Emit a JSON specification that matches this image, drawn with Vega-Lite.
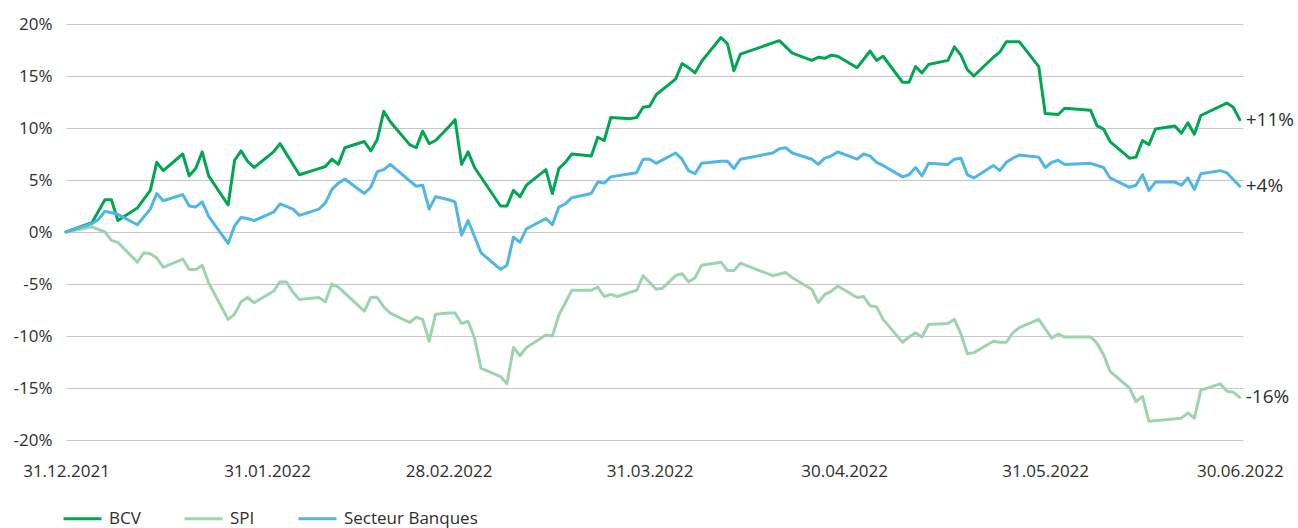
{
  "$schema": "https://vega.github.io/schema/vega-lite/v6.json",
  "autosize": {"type": "none"},
  "padding": {"left": 66, "top": 24, "right": 55, "bottom": 88},
  "width": 1177,
  "height": 416,
  "background": "white",
  "config": {
    "view": {"stroke": null},
    "font": "Open Sans",
    "text": {"font": "Open Sans"}
  },
  "datasets": {
    "series": [
      {"date": "2021-12-31", "series": "BCV", "value": 0},
      {"date": "2022-01-04", "series": "BCV", "value": 0.9},
      {"date": "2022-01-06", "series": "BCV", "value": 3.1},
      {"date": "2022-01-07", "series": "BCV", "value": 3.1},
      {"date": "2022-01-08", "series": "BCV", "value": 1.1},
      {"date": "2022-01-11", "series": "BCV", "value": 2.3},
      {"date": "2022-01-13", "series": "BCV", "value": 4.0},
      {"date": "2022-01-14", "series": "BCV", "value": 6.7},
      {"date": "2022-01-15", "series": "BCV", "value": 5.9},
      {"date": "2022-01-18", "series": "BCV", "value": 7.5},
      {"date": "2022-01-19", "series": "BCV", "value": 5.4},
      {"date": "2022-01-20", "series": "BCV", "value": 6.1},
      {"date": "2022-01-21", "series": "BCV", "value": 7.7},
      {"date": "2022-01-22", "series": "BCV", "value": 5.4},
      {"date": "2022-01-25", "series": "BCV", "value": 2.6},
      {"date": "2022-01-26", "series": "BCV", "value": 6.9},
      {"date": "2022-01-27", "series": "BCV", "value": 7.8},
      {"date": "2022-01-28", "series": "BCV", "value": 6.8},
      {"date": "2022-01-29", "series": "BCV", "value": 6.2},
      {"date": "2022-02-01", "series": "BCV", "value": 7.7},
      {"date": "2022-02-02", "series": "BCV", "value": 8.5},
      {"date": "2022-02-05", "series": "BCV", "value": 5.5},
      {"date": "2022-02-08", "series": "BCV", "value": 6.1},
      {"date": "2022-02-09", "series": "BCV", "value": 6.3},
      {"date": "2022-02-10", "series": "BCV", "value": 7.0},
      {"date": "2022-02-11", "series": "BCV", "value": 6.5},
      {"date": "2022-02-12", "series": "BCV", "value": 8.1},
      {"date": "2022-02-15", "series": "BCV", "value": 8.7},
      {"date": "2022-02-16", "series": "BCV", "value": 7.8},
      {"date": "2022-02-17", "series": "BCV", "value": 8.9},
      {"date": "2022-02-18", "series": "BCV", "value": 11.6},
      {"date": "2022-02-19", "series": "BCV", "value": 10.6},
      {"date": "2022-02-22", "series": "BCV", "value": 8.4},
      {"date": "2022-02-23", "series": "BCV", "value": 8.1},
      {"date": "2022-02-24", "series": "BCV", "value": 9.7},
      {"date": "2022-02-25", "series": "BCV", "value": 8.5},
      {"date": "2022-02-26", "series": "BCV", "value": 8.8},
      {"date": "2022-02-28", "series": "BCV", "value": 10.1},
      {"date": "2022-03-01", "series": "BCV", "value": 10.8},
      {"date": "2022-03-02", "series": "BCV", "value": 6.5},
      {"date": "2022-03-03", "series": "BCV", "value": 7.7},
      {"date": "2022-03-04", "series": "BCV", "value": 6.2},
      {"date": "2022-03-08", "series": "BCV", "value": 2.5},
      {"date": "2022-03-09", "series": "BCV", "value": 2.5},
      {"date": "2022-03-10", "series": "BCV", "value": 4.0},
      {"date": "2022-03-11", "series": "BCV", "value": 3.4},
      {"date": "2022-03-12", "series": "BCV", "value": 4.5},
      {"date": "2022-03-15", "series": "BCV", "value": 6.0},
      {"date": "2022-03-16", "series": "BCV", "value": 3.7},
      {"date": "2022-03-17", "series": "BCV", "value": 6.1},
      {"date": "2022-03-18", "series": "BCV", "value": 6.7},
      {"date": "2022-03-19", "series": "BCV", "value": 7.5},
      {"date": "2022-03-22", "series": "BCV", "value": 7.3},
      {"date": "2022-03-23", "series": "BCV", "value": 9.1},
      {"date": "2022-03-24", "series": "BCV", "value": 8.8},
      {"date": "2022-03-25", "series": "BCV", "value": 11.0},
      {"date": "2022-03-28", "series": "BCV", "value": 10.9},
      {"date": "2022-03-29", "series": "BCV", "value": 11.0},
      {"date": "2022-03-30", "series": "BCV", "value": 12.0},
      {"date": "2022-03-31", "series": "BCV", "value": 12.1},
      {"date": "2022-04-01", "series": "BCV", "value": 13.2},
      {"date": "2022-04-04", "series": "BCV", "value": 14.7},
      {"date": "2022-04-05", "series": "BCV", "value": 16.2},
      {"date": "2022-04-06", "series": "BCV", "value": 15.8},
      {"date": "2022-04-07", "series": "BCV", "value": 15.3},
      {"date": "2022-04-08", "series": "BCV", "value": 16.4},
      {"date": "2022-04-11", "series": "BCV", "value": 18.7},
      {"date": "2022-04-12", "series": "BCV", "value": 18.1},
      {"date": "2022-04-13", "series": "BCV", "value": 15.5},
      {"date": "2022-04-14", "series": "BCV", "value": 17.1},
      {"date": "2022-04-20", "series": "BCV", "value": 18.4},
      {"date": "2022-04-22", "series": "BCV", "value": 17.2},
      {"date": "2022-04-25", "series": "BCV", "value": 16.5},
      {"date": "2022-04-26", "series": "BCV", "value": 16.8},
      {"date": "2022-04-27", "series": "BCV", "value": 16.7},
      {"date": "2022-04-28", "series": "BCV", "value": 17.0},
      {"date": "2022-04-29", "series": "BCV", "value": 16.9},
      {"date": "2022-05-02", "series": "BCV", "value": 15.8},
      {"date": "2022-05-04", "series": "BCV", "value": 17.4},
      {"date": "2022-05-05", "series": "BCV", "value": 16.5},
      {"date": "2022-05-06", "series": "BCV", "value": 16.9},
      {"date": "2022-05-09", "series": "BCV", "value": 14.4},
      {"date": "2022-05-10", "series": "BCV", "value": 14.4},
      {"date": "2022-05-11", "series": "BCV", "value": 15.9},
      {"date": "2022-05-12", "series": "BCV", "value": 15.3},
      {"date": "2022-05-13", "series": "BCV", "value": 16.1},
      {"date": "2022-05-16", "series": "BCV", "value": 16.5},
      {"date": "2022-05-17", "series": "BCV", "value": 17.8},
      {"date": "2022-05-18", "series": "BCV", "value": 17.0},
      {"date": "2022-05-19", "series": "BCV", "value": 15.6},
      {"date": "2022-05-20", "series": "BCV", "value": 15.0},
      {"date": "2022-05-23", "series": "BCV", "value": 16.8},
      {"date": "2022-05-24", "series": "BCV", "value": 17.3},
      {"date": "2022-05-25", "series": "BCV", "value": 18.3},
      {"date": "2022-05-27", "series": "BCV", "value": 18.3},
      {"date": "2022-05-30", "series": "BCV", "value": 15.9},
      {"date": "2022-05-31", "series": "BCV", "value": 11.4},
      {"date": "2022-06-02", "series": "BCV", "value": 11.3},
      {"date": "2022-06-03", "series": "BCV", "value": 11.9},
      {"date": "2022-06-07", "series": "BCV", "value": 11.7},
      {"date": "2022-06-08", "series": "BCV", "value": 10.2},
      {"date": "2022-06-09", "series": "BCV", "value": 9.9},
      {"date": "2022-06-10", "series": "BCV", "value": 8.7},
      {"date": "2022-06-13", "series": "BCV", "value": 7.1},
      {"date": "2022-06-14", "series": "BCV", "value": 7.2},
      {"date": "2022-06-15", "series": "BCV", "value": 8.8},
      {"date": "2022-06-16", "series": "BCV", "value": 8.4},
      {"date": "2022-06-17", "series": "BCV", "value": 9.9},
      {"date": "2022-06-20", "series": "BCV", "value": 10.2},
      {"date": "2022-06-21", "series": "BCV", "value": 9.5},
      {"date": "2022-06-22", "series": "BCV", "value": 10.5},
      {"date": "2022-06-23", "series": "BCV", "value": 9.4},
      {"date": "2022-06-24", "series": "BCV", "value": 11.2},
      {"date": "2022-06-28", "series": "BCV", "value": 12.4},
      {"date": "2022-06-29", "series": "BCV", "value": 12.0},
      {"date": "2022-06-30", "series": "BCV", "value": 10.8},

      {"date": "2021-12-31", "series": "SPI", "value": 0},
      {"date": "2022-01-04", "series": "SPI", "value": 0.5},
      {"date": "2022-01-06", "series": "SPI", "value": 0.0},
      {"date": "2022-01-07", "series": "SPI", "value": -0.8},
      {"date": "2022-01-08", "series": "SPI", "value": -1.0},
      {"date": "2022-01-11", "series": "SPI", "value": -2.9},
      {"date": "2022-01-12", "series": "SPI", "value": -2.0},
      {"date": "2022-01-13", "series": "SPI", "value": -2.1},
      {"date": "2022-01-14", "series": "SPI", "value": -2.5},
      {"date": "2022-01-15", "series": "SPI", "value": -3.4},
      {"date": "2022-01-18", "series": "SPI", "value": -2.6},
      {"date": "2022-01-19", "series": "SPI", "value": -3.6},
      {"date": "2022-01-20", "series": "SPI", "value": -3.6},
      {"date": "2022-01-21", "series": "SPI", "value": -3.2},
      {"date": "2022-01-22", "series": "SPI", "value": -4.9},
      {"date": "2022-01-25", "series": "SPI", "value": -8.4},
      {"date": "2022-01-26", "series": "SPI", "value": -7.9},
      {"date": "2022-01-27", "series": "SPI", "value": -6.7},
      {"date": "2022-01-28", "series": "SPI", "value": -6.3},
      {"date": "2022-01-29", "series": "SPI", "value": -6.8},
      {"date": "2022-02-01", "series": "SPI", "value": -5.7},
      {"date": "2022-02-02", "series": "SPI", "value": -4.8},
      {"date": "2022-02-03", "series": "SPI", "value": -4.8},
      {"date": "2022-02-04", "series": "SPI", "value": -5.8},
      {"date": "2022-02-05", "series": "SPI", "value": -6.5},
      {"date": "2022-02-08", "series": "SPI", "value": -6.3},
      {"date": "2022-02-09", "series": "SPI", "value": -6.7},
      {"date": "2022-02-10", "series": "SPI", "value": -5.0},
      {"date": "2022-02-11", "series": "SPI", "value": -5.3},
      {"date": "2022-02-15", "series": "SPI", "value": -7.6},
      {"date": "2022-02-16", "series": "SPI", "value": -6.3},
      {"date": "2022-02-17", "series": "SPI", "value": -6.3},
      {"date": "2022-02-18", "series": "SPI", "value": -7.2},
      {"date": "2022-02-19", "series": "SPI", "value": -7.8},
      {"date": "2022-02-22", "series": "SPI", "value": -8.7},
      {"date": "2022-02-23", "series": "SPI", "value": -8.2},
      {"date": "2022-02-24", "series": "SPI", "value": -8.4},
      {"date": "2022-02-25", "series": "SPI", "value": -10.5},
      {"date": "2022-02-26", "series": "SPI", "value": -7.9},
      {"date": "2022-02-28", "series": "SPI", "value": -7.8},
      {"date": "2022-03-01", "series": "SPI", "value": -7.8},
      {"date": "2022-03-02", "series": "SPI", "value": -8.8},
      {"date": "2022-03-03", "series": "SPI", "value": -8.6},
      {"date": "2022-03-04", "series": "SPI", "value": -10.2},
      {"date": "2022-03-05", "series": "SPI", "value": -13.1},
      {"date": "2022-03-08", "series": "SPI", "value": -13.9},
      {"date": "2022-03-09", "series": "SPI", "value": -14.6},
      {"date": "2022-03-10", "series": "SPI", "value": -11.1},
      {"date": "2022-03-11", "series": "SPI", "value": -11.9},
      {"date": "2022-03-12", "series": "SPI", "value": -11.1},
      {"date": "2022-03-15", "series": "SPI", "value": -9.9},
      {"date": "2022-03-16", "series": "SPI", "value": -10.0},
      {"date": "2022-03-17", "series": "SPI", "value": -8.0},
      {"date": "2022-03-19", "series": "SPI", "value": -5.6},
      {"date": "2022-03-22", "series": "SPI", "value": -5.6},
      {"date": "2022-03-23", "series": "SPI", "value": -5.3},
      {"date": "2022-03-24", "series": "SPI", "value": -6.2},
      {"date": "2022-03-25", "series": "SPI", "value": -6.0},
      {"date": "2022-03-26", "series": "SPI", "value": -6.2},
      {"date": "2022-03-29", "series": "SPI", "value": -5.6},
      {"date": "2022-03-30", "series": "SPI", "value": -4.2},
      {"date": "2022-04-01", "series": "SPI", "value": -5.5},
      {"date": "2022-04-02", "series": "SPI", "value": -5.4},
      {"date": "2022-04-04", "series": "SPI", "value": -4.2},
      {"date": "2022-04-05", "series": "SPI", "value": -4.0},
      {"date": "2022-04-06", "series": "SPI", "value": -4.8},
      {"date": "2022-04-07", "series": "SPI", "value": -4.4},
      {"date": "2022-04-08", "series": "SPI", "value": -3.2},
      {"date": "2022-04-11", "series": "SPI", "value": -2.9},
      {"date": "2022-04-12", "series": "SPI", "value": -3.7},
      {"date": "2022-04-13", "series": "SPI", "value": -3.7},
      {"date": "2022-04-14", "series": "SPI", "value": -3.0},
      {"date": "2022-04-19", "series": "SPI", "value": -4.2},
      {"date": "2022-04-21", "series": "SPI", "value": -3.9},
      {"date": "2022-04-22", "series": "SPI", "value": -4.4},
      {"date": "2022-04-25", "series": "SPI", "value": -5.5},
      {"date": "2022-04-26", "series": "SPI", "value": -6.8},
      {"date": "2022-04-27", "series": "SPI", "value": -6.0},
      {"date": "2022-04-28", "series": "SPI", "value": -5.7},
      {"date": "2022-04-29", "series": "SPI", "value": -5.2},
      {"date": "2022-05-02", "series": "SPI", "value": -6.3},
      {"date": "2022-05-03", "series": "SPI", "value": -6.2},
      {"date": "2022-05-04", "series": "SPI", "value": -7.1},
      {"date": "2022-05-05", "series": "SPI", "value": -7.2},
      {"date": "2022-05-06", "series": "SPI", "value": -8.4},
      {"date": "2022-05-09", "series": "SPI", "value": -10.6},
      {"date": "2022-05-10", "series": "SPI", "value": -10.1},
      {"date": "2022-05-11", "series": "SPI", "value": -9.7},
      {"date": "2022-05-12", "series": "SPI", "value": -10.1},
      {"date": "2022-05-13", "series": "SPI", "value": -8.9},
      {"date": "2022-05-16", "series": "SPI", "value": -8.8},
      {"date": "2022-05-17", "series": "SPI", "value": -8.4},
      {"date": "2022-05-18", "series": "SPI", "value": -9.8},
      {"date": "2022-05-19", "series": "SPI", "value": -11.7},
      {"date": "2022-05-20", "series": "SPI", "value": -11.6},
      {"date": "2022-05-23", "series": "SPI", "value": -10.5},
      {"date": "2022-05-24", "series": "SPI", "value": -10.6},
      {"date": "2022-05-25", "series": "SPI", "value": -10.6},
      {"date": "2022-05-26", "series": "SPI", "value": -9.7},
      {"date": "2022-05-27", "series": "SPI", "value": -9.2},
      {"date": "2022-05-30", "series": "SPI", "value": -8.4},
      {"date": "2022-06-01", "series": "SPI", "value": -10.2},
      {"date": "2022-06-02", "series": "SPI", "value": -9.8},
      {"date": "2022-06-03", "series": "SPI", "value": -10.1},
      {"date": "2022-06-07", "series": "SPI", "value": -10.1},
      {"date": "2022-06-08", "series": "SPI", "value": -10.7},
      {"date": "2022-06-09", "series": "SPI", "value": -11.8},
      {"date": "2022-06-10", "series": "SPI", "value": -13.4},
      {"date": "2022-06-13", "series": "SPI", "value": -15.0},
      {"date": "2022-06-14", "series": "SPI", "value": -16.3},
      {"date": "2022-06-15", "series": "SPI", "value": -15.8},
      {"date": "2022-06-16", "series": "SPI", "value": -18.2},
      {"date": "2022-06-21", "series": "SPI", "value": -17.9},
      {"date": "2022-06-22", "series": "SPI", "value": -17.4},
      {"date": "2022-06-23", "series": "SPI", "value": -17.9},
      {"date": "2022-06-24", "series": "SPI", "value": -15.2},
      {"date": "2022-06-27", "series": "SPI", "value": -14.6},
      {"date": "2022-06-28", "series": "SPI", "value": -15.3},
      {"date": "2022-06-29", "series": "SPI", "value": -15.4},
      {"date": "2022-06-30", "series": "SPI", "value": -15.9},

      {"date": "2021-12-31", "series": "Secteur Banques", "value": 0},
      {"date": "2022-01-04", "series": "Secteur Banques", "value": 0.8},
      {"date": "2022-01-05", "series": "Secteur Banques", "value": 1.2},
      {"date": "2022-01-06", "series": "Secteur Banques", "value": 2.0},
      {"date": "2022-01-08", "series": "Secteur Banques", "value": 1.7},
      {"date": "2022-01-11", "series": "Secteur Banques", "value": 0.7},
      {"date": "2022-01-13", "series": "Secteur Banques", "value": 2.2},
      {"date": "2022-01-14", "series": "Secteur Banques", "value": 3.7},
      {"date": "2022-01-15", "series": "Secteur Banques", "value": 3.0},
      {"date": "2022-01-18", "series": "Secteur Banques", "value": 3.6},
      {"date": "2022-01-19", "series": "Secteur Banques", "value": 2.5},
      {"date": "2022-01-20", "series": "Secteur Banques", "value": 2.4},
      {"date": "2022-01-21", "series": "Secteur Banques", "value": 2.9},
      {"date": "2022-01-22", "series": "Secteur Banques", "value": 1.5},
      {"date": "2022-01-25", "series": "Secteur Banques", "value": -1.1},
      {"date": "2022-01-26", "series": "Secteur Banques", "value": 0.6},
      {"date": "2022-01-27", "series": "Secteur Banques", "value": 1.4},
      {"date": "2022-01-28", "series": "Secteur Banques", "value": 1.3},
      {"date": "2022-01-29", "series": "Secteur Banques", "value": 1.1},
      {"date": "2022-02-01", "series": "Secteur Banques", "value": 1.9},
      {"date": "2022-02-02", "series": "Secteur Banques", "value": 2.7},
      {"date": "2022-02-04", "series": "Secteur Banques", "value": 2.2},
      {"date": "2022-02-05", "series": "Secteur Banques", "value": 1.6},
      {"date": "2022-02-08", "series": "Secteur Banques", "value": 2.2},
      {"date": "2022-02-09", "series": "Secteur Banques", "value": 2.8},
      {"date": "2022-02-10", "series": "Secteur Banques", "value": 4.1},
      {"date": "2022-02-11", "series": "Secteur Banques", "value": 4.7},
      {"date": "2022-02-12", "series": "Secteur Banques", "value": 5.1},
      {"date": "2022-02-15", "series": "Secteur Banques", "value": 3.7},
      {"date": "2022-02-16", "series": "Secteur Banques", "value": 4.3},
      {"date": "2022-02-17", "series": "Secteur Banques", "value": 5.8},
      {"date": "2022-02-18", "series": "Secteur Banques", "value": 6.0},
      {"date": "2022-02-19", "series": "Secteur Banques", "value": 6.5},
      {"date": "2022-02-23", "series": "Secteur Banques", "value": 4.4},
      {"date": "2022-02-24", "series": "Secteur Banques", "value": 4.5},
      {"date": "2022-02-25", "series": "Secteur Banques", "value": 2.2},
      {"date": "2022-02-26", "series": "Secteur Banques", "value": 3.4},
      {"date": "2022-02-28", "series": "Secteur Banques", "value": 3.1},
      {"date": "2022-03-01", "series": "Secteur Banques", "value": 2.9},
      {"date": "2022-03-02", "series": "Secteur Banques", "value": -0.3},
      {"date": "2022-03-03", "series": "Secteur Banques", "value": 1.1},
      {"date": "2022-03-05", "series": "Secteur Banques", "value": -2.0},
      {"date": "2022-03-08", "series": "Secteur Banques", "value": -3.6},
      {"date": "2022-03-09", "series": "Secteur Banques", "value": -3.2},
      {"date": "2022-03-10", "series": "Secteur Banques", "value": -0.5},
      {"date": "2022-03-11", "series": "Secteur Banques", "value": -1.0},
      {"date": "2022-03-12", "series": "Secteur Banques", "value": 0.3},
      {"date": "2022-03-15", "series": "Secteur Banques", "value": 1.3},
      {"date": "2022-03-16", "series": "Secteur Banques", "value": 0.7},
      {"date": "2022-03-17", "series": "Secteur Banques", "value": 2.4},
      {"date": "2022-03-18", "series": "Secteur Banques", "value": 2.7},
      {"date": "2022-03-19", "series": "Secteur Banques", "value": 3.3},
      {"date": "2022-03-22", "series": "Secteur Banques", "value": 3.7},
      {"date": "2022-03-23", "series": "Secteur Banques", "value": 4.8},
      {"date": "2022-03-24", "series": "Secteur Banques", "value": 4.7},
      {"date": "2022-03-25", "series": "Secteur Banques", "value": 5.3},
      {"date": "2022-03-28", "series": "Secteur Banques", "value": 5.6},
      {"date": "2022-03-29", "series": "Secteur Banques", "value": 5.7},
      {"date": "2022-03-30", "series": "Secteur Banques", "value": 7.0},
      {"date": "2022-03-31", "series": "Secteur Banques", "value": 7.0},
      {"date": "2022-04-01", "series": "Secteur Banques", "value": 6.6},
      {"date": "2022-04-04", "series": "Secteur Banques", "value": 7.6},
      {"date": "2022-04-05", "series": "Secteur Banques", "value": 7.0},
      {"date": "2022-04-06", "series": "Secteur Banques", "value": 5.9},
      {"date": "2022-04-07", "series": "Secteur Banques", "value": 5.6},
      {"date": "2022-04-08", "series": "Secteur Banques", "value": 6.6},
      {"date": "2022-04-11", "series": "Secteur Banques", "value": 6.8},
      {"date": "2022-04-12", "series": "Secteur Banques", "value": 6.8},
      {"date": "2022-04-13", "series": "Secteur Banques", "value": 6.1},
      {"date": "2022-04-14", "series": "Secteur Banques", "value": 7.0},
      {"date": "2022-04-19", "series": "Secteur Banques", "value": 7.6},
      {"date": "2022-04-20", "series": "Secteur Banques", "value": 8.0},
      {"date": "2022-04-21", "series": "Secteur Banques", "value": 8.1},
      {"date": "2022-04-22", "series": "Secteur Banques", "value": 7.6},
      {"date": "2022-04-25", "series": "Secteur Banques", "value": 7.0},
      {"date": "2022-04-26", "series": "Secteur Banques", "value": 6.5},
      {"date": "2022-04-27", "series": "Secteur Banques", "value": 7.1},
      {"date": "2022-04-28", "series": "Secteur Banques", "value": 7.3},
      {"date": "2022-04-29", "series": "Secteur Banques", "value": 7.7},
      {"date": "2022-05-02", "series": "Secteur Banques", "value": 7.0},
      {"date": "2022-05-03", "series": "Secteur Banques", "value": 7.5},
      {"date": "2022-05-04", "series": "Secteur Banques", "value": 7.3},
      {"date": "2022-05-05", "series": "Secteur Banques", "value": 6.7},
      {"date": "2022-05-06", "series": "Secteur Banques", "value": 6.4},
      {"date": "2022-05-09", "series": "Secteur Banques", "value": 5.3},
      {"date": "2022-05-10", "series": "Secteur Banques", "value": 5.5},
      {"date": "2022-05-11", "series": "Secteur Banques", "value": 6.2},
      {"date": "2022-05-12", "series": "Secteur Banques", "value": 5.4},
      {"date": "2022-05-13", "series": "Secteur Banques", "value": 6.6},
      {"date": "2022-05-16", "series": "Secteur Banques", "value": 6.5},
      {"date": "2022-05-17", "series": "Secteur Banques", "value": 7.0},
      {"date": "2022-05-18", "series": "Secteur Banques", "value": 7.1},
      {"date": "2022-05-19", "series": "Secteur Banques", "value": 5.5},
      {"date": "2022-05-20", "series": "Secteur Banques", "value": 5.2},
      {"date": "2022-05-23", "series": "Secteur Banques", "value": 6.4},
      {"date": "2022-05-24", "series": "Secteur Banques", "value": 5.9},
      {"date": "2022-05-25", "series": "Secteur Banques", "value": 6.7},
      {"date": "2022-05-26", "series": "Secteur Banques", "value": 7.1},
      {"date": "2022-05-27", "series": "Secteur Banques", "value": 7.4},
      {"date": "2022-05-30", "series": "Secteur Banques", "value": 7.2},
      {"date": "2022-05-31", "series": "Secteur Banques", "value": 6.2},
      {"date": "2022-06-01", "series": "Secteur Banques", "value": 6.7},
      {"date": "2022-06-02", "series": "Secteur Banques", "value": 6.9},
      {"date": "2022-06-03", "series": "Secteur Banques", "value": 6.5},
      {"date": "2022-06-07", "series": "Secteur Banques", "value": 6.6},
      {"date": "2022-06-09", "series": "Secteur Banques", "value": 6.2},
      {"date": "2022-06-10", "series": "Secteur Banques", "value": 5.2},
      {"date": "2022-06-13", "series": "Secteur Banques", "value": 4.3},
      {"date": "2022-06-14", "series": "Secteur Banques", "value": 4.5},
      {"date": "2022-06-15", "series": "Secteur Banques", "value": 5.5},
      {"date": "2022-06-16", "series": "Secteur Banques", "value": 4.0},
      {"date": "2022-06-17", "series": "Secteur Banques", "value": 4.8},
      {"date": "2022-06-20", "series": "Secteur Banques", "value": 4.8},
      {"date": "2022-06-21", "series": "Secteur Banques", "value": 4.5},
      {"date": "2022-06-22", "series": "Secteur Banques", "value": 5.2},
      {"date": "2022-06-23", "series": "Secteur Banques", "value": 4.1},
      {"date": "2022-06-24", "series": "Secteur Banques", "value": 5.6},
      {"date": "2022-06-27", "series": "Secteur Banques", "value": 5.9},
      {"date": "2022-06-28", "series": "Secteur Banques", "value": 5.7},
      {"date": "2022-06-30", "series": "Secteur Banques", "value": 4.4}
    ],
    "ends": [
      {"date": "2022-06-30", "value": 10.8, "label": "+11%"},
      {"date": "2022-06-30", "value": 4.4, "label": "+4%"},
      {"date": "2022-06-30", "value": -15.9, "label": "-16%"}
    ]
  },
  "layer": [
    {
      "data": {"name": "series"},
      "mark": {"type": "line", "strokeWidth": 3, "strokeJoin": "round", "strokeCap": "round", "clip": false},
      "encoding": {
        "x": {
          "field": "date",
          "type": "temporal",
          "scale": {"type": "utc", "domain": [{"year": 2021, "month": 12, "date": 31, "utc": true}, {"year": 2022, "month": 6, "date": 30, "hours": 12, "utc": true}]},
          "axis": {
            "title": null,
            "values": [
              {"year": 2021, "month": 12, "date": 31, "utc": true},
              {"year": 2022, "month": 1, "date": 31, "utc": true},
              {"year": 2022, "month": 2, "date": 28, "utc": true},
              {"year": 2022, "month": 3, "date": 31, "utc": true},
              {"year": 2022, "month": 4, "date": 30, "utc": true},
              {"year": 2022, "month": 5, "date": 31, "utc": true},
              {"year": 2022, "month": 6, "date": 30, "utc": true}
            ],
            "labelExpr": "utcFormat(datum.value, '%d.%m.%Y')",
            "grid": false,
            "domain": false,
            "ticks": false,
            "labelPadding": 23,
            "labelFontSize": 17,
            "labelColor": "#2e2e2e",
            "labelFont": "Open Sans",
            "labelFlush": false,
            "labelOverlap": false
          }
        },
        "y": {
          "field": "value",
          "type": "quantitative",
          "scale": {"domain": [-20, 20], "nice": false, "zero": false},
          "axis": {
            "title": null,
            "values": [-20, -15, -10, -5, 0, 5, 10, 15, 20],
            "labelExpr": "datum.value + '%'",
            "grid": true,
            "gridColor": "#c8c8c8",
            "gridWidth": 1,
            "domain": false,
            "ticks": false,
            "labelPadding": 14,
            "labelFontSize": 17,
            "labelColor": "#2e2e2e",
            "labelFont": "Open Sans"
          }
        },
        "color": {
          "field": "series",
          "type": "nominal",
          "scale": {"domain": ["BCV", "SPI", "Secteur Banques"], "range": ["#00a651", "#9dd4af", "#4fb6e6"]},
          "legend": {
            "title": null,
            "orient": "none",
            "direction": "horizontal",
            "legendX": -4,
            "legendY": 474,
            "symbolType": "stroke",
            "symbolSize": 1444,
            "symbolStrokeWidth": 3,
            "labelFontSize": 17,
            "labelColor": "#2e2e2e",
            "labelFont": "Open Sans",
            "labelOffset": 6,
            "columnPadding": 37
          }
        }
      }
    },
    {
      "data": {"name": "ends"},
      "mark": {"type": "text", "align": "left", "baseline": "middle", "dx": 6, "fontSize": 19, "color": "#2e2e2e", "font": "Open Sans"},
      "encoding": {
        "x": {"field": "date", "type": "temporal", "scale": {"type": "utc"}},
        "y": {"field": "value", "type": "quantitative"},
        "text": {"field": "label"}
      }
    },
    {
      "mark": {"type": "rule", "color": "#000000", "strokeWidth": 1.2},
      "encoding": {"y": {"datum": 0}}
    }
  ]
}
